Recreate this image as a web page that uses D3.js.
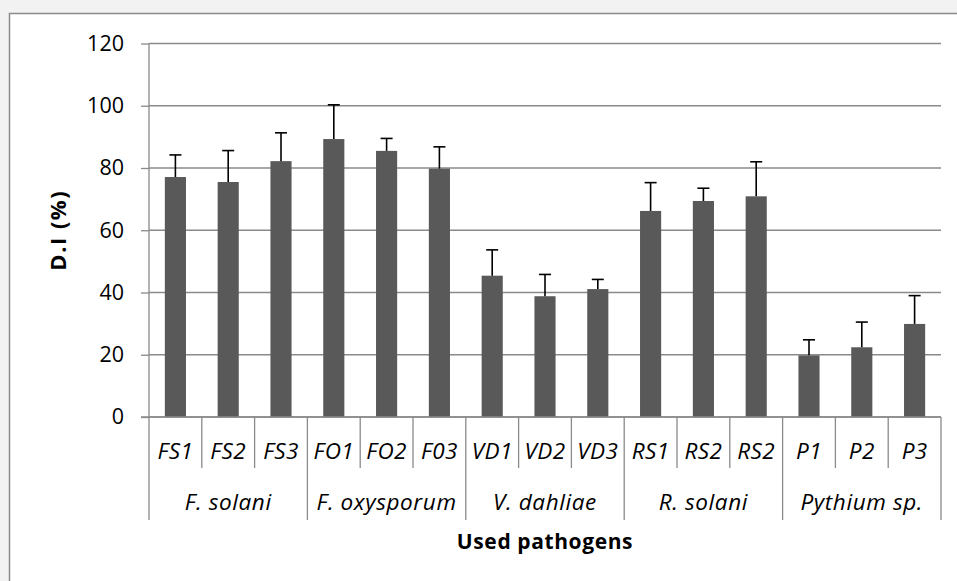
<!DOCTYPE html>
<html>
<head>
<meta charset="utf-8">
<script src="https://cdn.jsdelivr.net/npm/d3@7"></script>
<style>
  body { margin: 0; background: #f2f2f2; }
  svg { display: block; font-family: "Open Sans", Lato, sans-serif; }
</style>
</head>
<body>
<svg id="chart"></svg>
<script>
// pathogen groups, each with three isolates
const groups = ['F. solani', 'F. oxysporum', 'V. dahliae', 'R. solani', 'Pythium sp.'];
const isolates = ['FS1', 'FS2', 'FS3', 'FO1', 'FO2', 'F03', 'VD1', 'VD2', 'VD3', 'RS1', 'RS2', 'RS2', 'P1', 'P2', 'P3'];
// disease index (%) and its error
const diValues = [77.1, 75.5, 82.2, 89.3, 85.5, 79.8, 45.4, 38.8, 41.1, 66.2, 69.4, 70.9, 19.8, 22.4, 29.9];
const diErrors = [7.1, 10.1, 9.1, 11.0, 4.0, 7.0, 8.3, 7.0, 3.1, 9.1, 4.1, 11.1, 5.0, 8.1, 9.1];
const yTicks = [0, 20, 40, 60, 80, 100, 120];

const W = 957, H = 581;
const margin = { top: 43.5, left: 149, right: 16, bottom: 164 };
const width = W - margin.left - margin.right;
const height = H - margin.top - margin.bottom;
const axisColor = '#8a8a8a';

const svg = d3.select('#chart').attr('width', W).attr('height', H);

// white chart area with grey frame (only top/left edges fall inside the window)
svg.append('rect')
    .attr('x', 9.5).attr('y', 13.5)
    .attr('width', W + 20).attr('height', H + 20)
    .attr('fill', '#fff')
    .attr('stroke', axisColor)
    .attr('stroke-width', 1.5);

const chart = svg.append('g')
    .attr('transform', `translate(${margin.left},${margin.top})`);

const xScale = d3.scaleBand()
    .domain(d3.range(isolates.length))
    .range([0, width])
    .paddingInner(0.6)
    .paddingOuter(0.3);

const yScale = d3.scaleLinear()
    .domain([0, 120])
    .range([height, 0]);

// gridlines + y axis
const yAxis = d3.axisLeft(yScale)
    .tickValues(yTicks)
    .tickSize(8)
    .tickPadding(17);

const yAxisG = chart.append('g').call(yAxis);
yAxisG.select('.domain').remove();
yAxisG.selectAll('.tick line').attr('stroke', axisColor).attr('stroke-width', 1.3);
yAxisG.selectAll('.tick text')
    .attr('fill', '#000')
    .style('font-size', '21.5px')
    .style('font-family', '"Open Sans", sans-serif');

chart.append('g')
  .selectAll('line')
  .data(yTicks)
  .join('line')
    .attr('x1', 0).attr('x2', width)
    .attr('y1', d => yScale(d)).attr('y2', d => yScale(d))
    .attr('stroke', axisColor)
    .attr('stroke-width', 1.3);

chart.append('line')
    .attr('x1', 0).attr('x2', 0)
    .attr('y1', 0).attr('y2', height)
    .attr('stroke', axisColor).attr('stroke-width', 1.3);

// bars
chart.append('g')
  .selectAll('rect')
  .data(diValues)
  .join('rect')
    .attr('x', (d, i) => xScale(i))
    .attr('y', d => yScale(d))
    .attr('width', xScale.bandwidth())
    .attr('height', d => height - yScale(d))
    .attr('fill', '#595959');

// error bars (upper only)
const errG = chart.append('g').attr('stroke', '#000').attr('stroke-width', 1.6);
diValues.forEach((v, i) => {
  const cx = xScale(i) + xScale.bandwidth() / 2;
  errG.append('line')
      .attr('x1', cx).attr('x2', cx)
      .attr('y1', yScale(v)).attr('y2', yScale(v + diErrors[i]));
  errG.append('line')
      .attr('x1', cx - 6).attr('x2', cx + 6)
      .attr('y1', yScale(v + diErrors[i])).attr('y2', yScale(v + diErrors[i]));
});

// two-level category axis
const step = xScale.step();
const xAxisG = chart.append('g').attr('transform', `translate(0,${height})`);

xAxisG.append('line')
    .attr('x1', -8).attr('x2', width)
    .attr('stroke', axisColor).attr('stroke-width', 1.3);

xAxisG.selectAll('line.sep')
  .data(d3.range(isolates.length + 1))
  .join('line')
    .attr('class', 'sep')
    .attr('x1', i => i * step).attr('x2', i => i * step)
    .attr('y1', 0)
    .attr('y2', i => i % 3 === 0 ? 103 : 51)
    .attr('stroke', axisColor).attr('stroke-width', 1.3);

xAxisG.selectAll('text.iso')
  .data(isolates)
  .join('text')
    .attr('class', 'iso')
    .attr('x', (d, i) => xScale(i) + xScale.bandwidth() / 2)
    .attr('y', 42)
    .attr('text-anchor', 'middle')
    .style('font-style', 'italic')
    .style('font-size', '22.5px')
    .style('letter-spacing', '0.4px')
    .text(d => d);

xAxisG.selectAll('text.grp')
  .data(groups)
  .join('text')
    .attr('class', 'grp')
    .attr('x', (d, i) => (i * 3 + 1.5) * step)
    .attr('y', 93)
    .attr('text-anchor', 'middle')
    .style('font-style', 'italic')
    .style('font-size', '22.5px')
    .style('letter-spacing', '0.6px')
    .text(d => d);

// axis titles
svg.append('text')
    .attr('x', margin.left + width / 2)
    .attr('y', 549)
    .attr('text-anchor', 'middle')
    .style('font-weight', 'bold')
    .style('font-size', '21px')
    .style('letter-spacing', '0.6px')
    .text('Used pathogens');

svg.append('text')
    .attr('transform', `translate(66,${margin.top + height / 2}) rotate(-90)`)
    .attr('text-anchor', 'middle')
    .style('font-weight', 'bold')
    .style('font-size', '22px')
    .style('letter-spacing', '1.5px')
    .text('D.I (%)');
</script>
</body>
</html>
